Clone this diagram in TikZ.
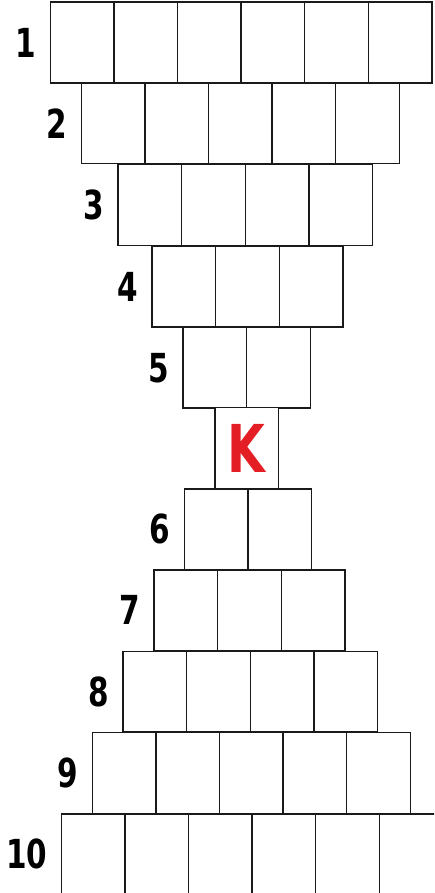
\documentclass[tikz,border=0pt]{standalone}
\usepackage{fontspec}
\usepackage{tikz}
\usetikzlibrary{positioning}
\newfontfamily\numfont[FakeStretch=0.82]{DejaVu Sans Condensed}
\definecolor{kred}{HTML}{E31E24}
\definecolor{edge}{HTML}{1A1A1A}
\tikzset{cell/.style={draw=edge,line width=1.4pt,fill=white,minimum width=63.6pt,minimum height=80.7pt,inner sep=0pt,anchor=north west},
         rowlab/.style={font=\numfont\bfseries\fontsize{40}{40}\selectfont,inner sep=0pt,anchor=east},
         keycell/.style={cell,text=kred,font=\numfont\bfseries\fontsize{66}{66}\selectfont}}
\begin{document}
\begin{tikzpicture}[x=1pt,y=-1pt]
 \useasboundingbox (0,0) rectangle (434,893);
 \clip (0,0) rectangle (434,893);
 % rows: label / cells / left edge / top edge
 \foreach \r/\n/\lx/\ty in {1/6/49.5/1.5, 2/5/80.5/82.3, 3/4/117.3/164, 4/3/151.3/245.5, 5/2/182.3/326.7,
                            6/2/183.7/488.3, 7/3/153.3/569.3, 8/4/122.3/650.5, 9/5/91.5/731.8, 10/6/60.5/813.3} {
  \foreach \i in {1,...,\n}
   \node[cell] (r\r-\i) at ({\lx+(\i-1)*63.6},\ty) {};
  \node[rowlab,left=13pt of r\r-1] (lab\r) {\r};
 }
 \node[keycell] (key) at (214.3,407) {K};
\end{tikzpicture}
\end{document}
